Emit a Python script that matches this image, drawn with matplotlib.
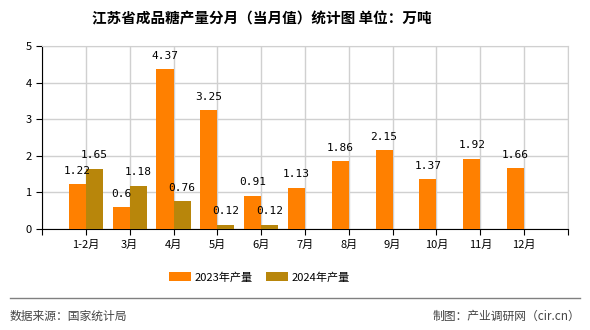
import matplotlib.pyplot as plt
import numpy as np

plt.rcParams['font.family'] = ['Noto Sans CJK SC', 'DejaVu Sans']

months = ['1-2月', '3月', '4月', '5月', '6月', '7月', '8月', '9月', '10月', '11月', '12月']
y2023 = [1.22, 0.6, 4.37, 3.25, 0.91, 1.13, 1.86, 2.15, 1.37, 1.92, 1.66]
y2024 = [1.65, 1.18, 0.76, 0.12, 0.12]

c2023 = '#FF8000'
c2024 = '#B8860B'

fig = plt.figure(figsize=(5.9, 3.3), dpi=100)
ax = fig.add_axes([0.0712, 0.3061, 0.8915, 0.5545])

x = np.arange(len(months))
w = 0.39
b1 = ax.bar(x - w / 2, y2023, w, color=c2023, label='2023年产量', zorder=3)
x2 = np.arange(len(y2024))
b2 = ax.bar(x2 + w / 2, y2024, w, color=c2024, label='2024年产量', zorder=3)

for bars, vals in ((b1, y2023), (b2, y2024)):
    for r, v in zip(bars, vals):
        ax.annotate(f'{v:g}', (r.get_x() + r.get_width() / 2, v),
                    xytext=(0, 6), textcoords='offset points',
                    ha='center', va='bottom', fontsize=8, family='DejaVu Sans Mono')

ax.set_xlim(-1, 11)
ax.set_ylim(0, 5)
ax.set_yticks(range(6))
ax.set_xticks(np.arange(-1, 12))
ax.set_xticklabels([''] + months + [''])
ax.tick_params(axis='both', labelsize=8, length=4, direction='out', color='black')
ax.grid(True, color='#d0d0d0', linewidth=1, zorder=0)
for s in ('top', 'right'):
    ax.spines[s].set_color('#d0d0d0')
ax.spines['left'].set_color('black')
ax.spines['bottom'].set_color('black')

fig.text(0.443, 0.945, '江苏省成品糖产量分月（当月值）统计图 单位：万吨',
         ha='center', va='center', fontsize=10.5, fontweight='bold')

fig.legend(handles=[b1, b2], loc='center', bbox_to_anchor=(0.44, 0.16), ncol=2,
           frameon=False, fontsize=8, handlelength=2.0, handleheight=0.8,
           columnspacing=1.2, handletextpad=0.3)

fig.add_artist(plt.Line2D([0.017, 0.983], [0.097, 0.097], color='#808080', linewidth=1))
fig.text(0.017, 0.042, '数据来源：国家统计局', ha='left', va='center', fontsize=8.5, color='#444444')
fig.text(0.983, 0.042, '制图：产业调研网（cir.cn）', ha='right', va='center', fontsize=8.5, color='#444444')

fig.savefig('out.png', dpi=100)
